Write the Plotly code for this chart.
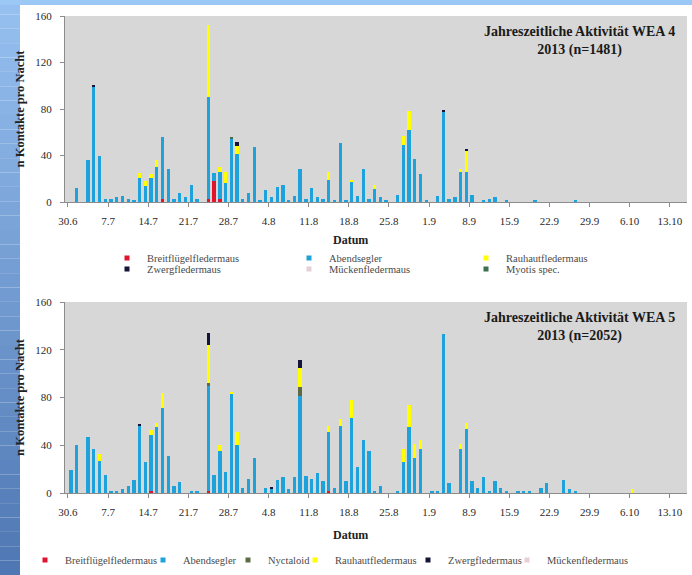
import datetime
import plotly.graph_objects as go

W, H = 692, 575

# ---------------- categories ----------------
start = datetime.date(2013, 6, 30)
n_days = 108
day_labels = [f"{(start + datetime.timedelta(d)).day}.{(start + datetime.timedelta(d)).month}" for d in range(n_days)]
day_index = list(range(n_days))
tick_labels = ["30.6", "7.7", "14.7", "21.7", "28.7", "4.8", "11.8", "18.8",
               "25.8", "1.9", "8.9", "15.9", "22.9", "29.9", "6.10", "13.10"]

# ---------------- WEA 4 (top) ----------------
wea4_abendsegler = [0, 12, 0, 36, 99, 40, 3, 3, 4, 5, 3, 2, 21, 14, 21, 30, 53, 28, 3, 8,
                    4, 15, 3, 0, 87, 7, 23, 16, 55, 41, 3, 8, 47, 2, 10, 4, 13, 15, 2, 5,
                    28, 3, 12, 4, 3, 19, 2, 51, 2, 17, 5, 28, 3, 11, 4, 1, 0, 6, 49, 62,
                    37, 24, 1, 0, 5, 78, 3, 4, 26, 26, 6, 0, 1, 3, 4, 0, 1, 0, 0, 0,
                    0, 1, 0, 0, 0, 0, 0, 0, 1, 0, 0, 0, 0, 0, 0, 0, 0, 0, 0, 0,
                    0, 0, 0, 0, 0, 0, 0, 0]
wea4_breitfluegel = {16: 3, 24: 3, 25: 18, 26: 3}
wea4_rauhaut = {12: 4, 13: 4, 14: 3, 15: 6, 24: 62, 26: 4, 27: 10, 29: 7, 45: 7,
                49: 2, 53: 4, 58: 8, 59: 16, 68: 2, 69: 18}
wea4_zwerg = {4: 1, 29: 4, 65: 1, 69: 2}
wea4_muecken = {}
wea4_myotis = {28: 1}

# ---------------- WEA 5 (bottom) ----------------
wea5_abendsegler = [19, 40, 0, 47, 37, 27, 15, 2, 1, 3, 6, 11, 56, 26, 47, 55, 71, 31, 6, 9,
                    0, 2, 2, 0, 88, 15, 35, 18, 83, 40, 4, 12, 29, 0, 4, 4, 11, 13, 3, 13,
                    81, 14, 12, 17, 10, 49, 4, 56, 10, 63, 22, 44, 35, 2, 6, 0, 0, 2, 26, 55,
                    29, 37, 0, 2, 2, 133, 8, 0, 37, 54, 10, 4, 13, 2, 10, 4, 2, 0, 1, 1,
                    1, 0, 4, 8, 0, 0, 11, 3, 2, 0, 0, 0, 0, 0, 0, 0, 0, 0, 0, 0,
                    0, 0, 0, 0, 0, 0, 0, 0]
wea5_breitfluegel = {14: 2, 24: 2, 45: 2}
wea5_nyctaloid = {24: 2, 40: 8}
wea5_rauhaut = {5: 6, 14: 4, 15: 4, 16: 13, 24: 32, 26: 5, 28: 2, 29: 11, 40: 16, 45: 5,
                47: 6, 49: 15, 58: 11, 59: 19, 60: 12, 61: 7, 68: 4, 69: 5, 98: 3}
wea5_zwerg = {12: 2, 24: 10, 35: 1, 40: 6}
wea5_muecken = {}

colors = {
    "Breitflügelfledermaus": "#e0142c",
    "Abendsegler": "#1ea2dc",
    "Nyctaloid": "#5d6b45",
    "Rauhautfledermaus": "#ffff00",
    "Zwergfledermaus": "#15153a",
    "Mückenfledermaus": "#e6cfd6",
    "Myotis spec.": "#3f6e50",
}


def dense(d):
    return [d.get(i, 0) for i in day_index]


# (name, values, legend-text start x [px], legend row y [px])
top_series = [
    ("Breitflügelfledermaus", dense(wea4_breitfluegel), 146, 258),
    ("Abendsegler", wea4_abendsegler, 328, 258),
    ("Rauhautfledermaus", dense(wea4_rauhaut), 505, 258),
    ("Zwergfledermaus", dense(wea4_zwerg), 146, 269),
    ("Mückenfledermaus", dense(wea4_muecken), 328, 269),
    ("Myotis spec.", dense(wea4_myotis), 505, 269),
]
bottom_series = [
    ("Breitflügelfledermaus", dense(wea5_breitfluegel), 64, 560),
    ("Abendsegler", wea5_abendsegler, 182, 560),
    ("Nyctaloid", dense(wea5_nyctaloid), 267, 560),
    ("Rauhautfledermaus", dense(wea5_rauhaut), 334, 560),
    ("Zwergfledermaus", dense(wea5_zwerg), 447, 560),
    ("Mückenfledermaus", dense(wea5_muecken), 546, 560),
]

SERIF = "Liberation Serif, Times New Roman, serif"
fig = go.Figure()
legends = {}
k = 0
for series, xa, ya in ((top_series, "x", "y"), (bottom_series, "x2", "y2")):
    for name, vals, lx, ly in series:
        k += 1
        lg = "legend" if k == 1 else f"legend{k}"
        fig.add_trace(go.Bar(x=day_index, y=vals, name=name, marker_color=colors[name],
                             marker_line_width=0, xaxis=xa, yaxis=ya, showlegend=False,
                             hovertext=day_labels))
        fig.add_trace(go.Scatter(x=[None], y=[None], mode="markers", name=name,
                                 marker=dict(symbol="square", size=5, color=colors[name]),
                                 xaxis=xa, yaxis=ya, legend=lg, showlegend=True))
        legends[lg] = dict(x=(lx - 39) / W, y=1 - ly / H, orientation="h",
                           xanchor="left", yanchor="middle", bgcolor="rgba(0,0,0,0)",
                           borderwidth=0, itemwidth=30,
                           font=dict(family=SERIF, size=10.5, color="#4a4a4a"),
                           itemclick=False, itemdoubleclick=False)

x_dom = [65 / W, 687 / W]
top_dom = [1 - 202 / H, 1 - 16 / H]
bot_dom = [1 - 493 / H, 1 - 302 / H]

xcommon = dict(range=[-1.02, 107.5], tickvals=[i - 0.5 for i in range(0, 106, 7)],
               ticktext=tick_labels, ticks="outside", ticklen=4, tickcolor="#8c8c8c",
               showline=True, linecolor="#8c8c8c", linewidth=1, showgrid=False,
               zeroline=False, tickfont=dict(family=SERIF, size=11, color="#2a2a2a"),
               ticklabelstandoff=5, automargin=False, fixedrange=True)
ycommon = dict(range=[0, 160], tickvals=[0, 40, 80, 120, 160], ticks="outside", ticklen=4,
               tickcolor="#8c8c8c", showline=True, linecolor="#8c8c8c", linewidth=1,
               showgrid=False, zeroline=False, ticklabelstandoff=6,
               tickfont=dict(family=SERIF, size=11, color="#2a2a2a"),
               automargin=False, fixedrange=True)

# blue slide decoration: left gradient strip and thin top strip
shapes = []
N = 40
c_top = (150, 192, 240)
c_bot = (78, 118, 178)
for j in range(N):
    t = j / N
    col = tuple(int(c_top[c] + (c_bot[c] - c_top[c]) * t) for c in range(3))
    shapes.append(dict(type="rect", xref="paper", yref="paper", x0=0, x1=20 / W,
                       y0=1 - (j + 1) / N, y1=1 - j / N,
                       fillcolor=f"rgb{col}", line_width=0, layer="below"))
shapes.append(dict(type="rect", xref="paper", yref="paper", x0=0, x1=1, y0=1 - 5 / H, y1=1,
                   fillcolor="rgb(156,200,246)", line_width=0, layer="below"))

title_font = dict(family=SERIF, size=14, color="#1a1a1a")
ytitle_font = dict(family=SERIF, size=12.5, color="#222")
datum_font = dict(family=SERIF, size=12, color="#222")
fig.update_layout(
    width=W, height=H, margin=dict(l=0, r=0, t=0, b=0, pad=0, autoexpand=False),
    paper_bgcolor="white", plot_bgcolor="#d7d7d7",
    barmode="stack", bargap=0.42,
    xaxis=dict(domain=x_dom, anchor="y", **xcommon),
    yaxis=dict(domain=top_dom, anchor="x", **ycommon,
               title=dict(text="<b>n Kontakte pro Nacht</b>", font=ytitle_font, standoff=7)),
    xaxis2=dict(domain=x_dom, anchor="y2", **xcommon),
    yaxis2=dict(domain=bot_dom, anchor="x2", **ycommon,
                title=dict(text="<b>n Kontakte pro Nacht</b>", font=ytitle_font, standoff=7)),
    shapes=shapes,
    annotations=[
        dict(xref="paper", yref="paper", x=579 / W, y=1 - 41 / H, showarrow=False,
             xanchor="center", yanchor="middle",
             text="<b>Jahreszeitliche Aktivität WEA 4</b><br><b>2013 (n=1481)</b>",
             font=title_font, align="center"),
        dict(xref="paper", yref="paper", x=579 / W, y=1 - 327 / H, showarrow=False,
             xanchor="center", yanchor="middle",
             text="<b>Jahreszeitliche Aktivität WEA 5</b><br><b>2013 (n=2052)</b>",
             font=title_font, align="center"),
        dict(xref="paper", yref="paper", x=350 / W, y=1 - 240 / H, showarrow=False,
             xanchor="center", yanchor="middle", text="<b>Datum</b>", font=datum_font),
        dict(xref="paper", yref="paper", x=350 / W, y=1 - 535 / H, showarrow=False,
             xanchor="center", yanchor="middle", text="<b>Datum</b>", font=datum_font),
    ],
    showlegend=True,
    **legends,
)

fig.write_html("out.html")
